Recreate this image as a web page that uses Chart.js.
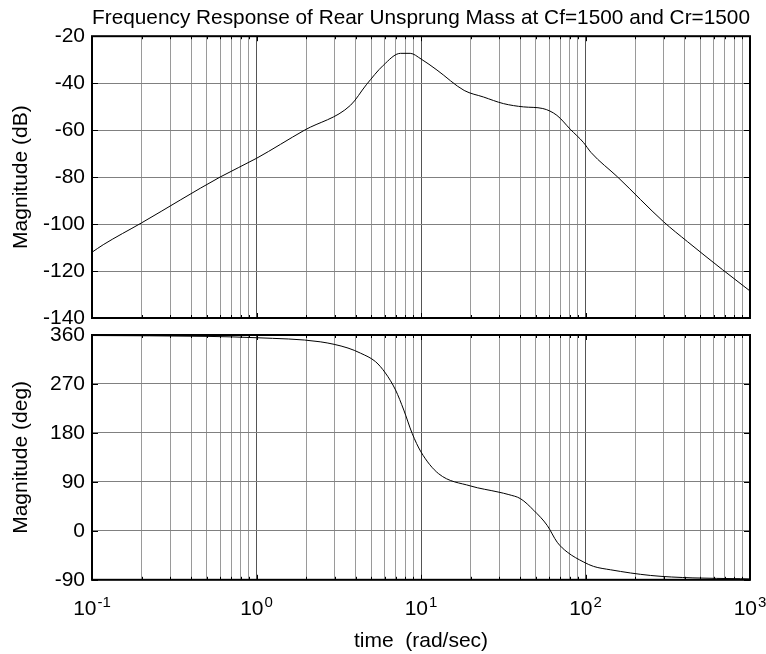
<!DOCTYPE html>
<html>
<head>
<meta charset="utf-8">
<title>Frequency Response of Rear Unsprung Mass</title>
<script src="https://cdn.jsdelivr.net/npm/chart.js@4.4.1/dist/chart.umd.min.js"></script>
<style>
  html, body { margin: 0; padding: 0; background: #fff; }
  #wrap { position: relative; width: 766px; height: 654px; }
  #magChart { position: absolute; left: 0; top: 0; }
  #phaseChart { position: absolute; left: 0; top: 313px; }
</style>
</head>
<body>
<div id="wrap">
  <canvas id="magChart" width="766" height="340"></canvas>
  <canvas id="phaseChart" width="766" height="341"></canvas>
</div>
<script>
// Bode plot of the rear unsprung mass

// Magnitude curve (rad/sec -> dB)
const magFreq = [0.1, 0.117, 0.2, 0.6, 1, 1.96, 3.73, 4.65, 5.9, 7.5, 8.6, 10, 12.5, 18.3, 24, 31.7, 42, 55, 67, 81, 97, 108, 157, 298, 417, 680, 1000];
const magDb = [-112, -108.8, -99.5, -80, -72, -60, -49.4, -40.7, -32.4, -27.3, -27.3, -29.7, -34.4, -43.1, -45.9, -48.7, -50.1, -50.8, -53.7, -59.7, -65.2, -69.5, -80, -99, -107.5, -119.4, -128.5];

// Phase curve (rad/sec -> deg)
const phaseFreq = [0.1, 0.5, 1, 2.44, 3.6, 4.29, 5.29, 6.08, 7.0, 7.86, 8.84, 10, 12.8, 20, 29.4, 34.2, 40.3, 48.5, 58.5, 67.3, 77.4, 97.7, 112, 142, 248, 450, 875, 1000];
const phaseDeg = [359, 357.5, 355, 347.5, 336, 326.6, 311, 290, 259, 222, 179, 145, 105, 82.5, 71.4, 66.6, 59, 37.6, 10, -21, -39, -57.5, -65.4, -71.6, -82, -86.5, -88, -88.5];

// Axis ticks
const decades = [0.1, 1, 10, 100, 1000];
const decadeExp = ['-1', '0', '1', '2', '3'];
const gridSteps = [1, 2, 3, 4, 5, 6, 7, 8, 9];
const magTicks = [-140, -120, -100, -80, -60, -40, -20];
const phaseTicks = [-90, 0, 90, 180, 270, 360];

const FONT = 'Liberation Sans, Arial, Helvetica, sans-serif';
const AXIS_LEFT = 92;

// gridlines at 1..9 x each decade
const xGridValues = [];
for (let i = 0; i < decades.length - 1; i++) {
    gridSteps.forEach(s => xGridValues.push(decades[i] * s));
}
xGridValues.push(decades[decades.length - 1]);

function isDecade(v) {
    return decades.some(d => Math.abs(v / d - 1) < 1e-6);
}

function toPoints(xs, ys) {
    return xs.map((x, i) => ({ x: x, y: ys[i] }));
}

// box round the plot area plus small inward tick marks
const framePlugin = {
    id: 'frame',
    afterDatasetsDraw(chart) {
        const { ctx, chartArea: a, scales } = chart;
        ctx.save();
        ctx.strokeStyle = '#000';
        ctx.lineWidth = 1;
        ctx.beginPath();
        scales.x.ticks.forEach(t => {
            const px = Math.round(scales.x.getPixelForValue(t.value)) + 0.5;
            const len = isDecade(t.value) ? 5 : 3;
            ctx.moveTo(px, a.top); ctx.lineTo(px, a.top + len);
            ctx.moveTo(px, a.bottom); ctx.lineTo(px, a.bottom - len);
        });
        scales.y.ticks.forEach(t => {
            const py = Math.round(scales.y.getPixelForValue(t.value)) + 0.5;
            ctx.moveTo(a.left, py); ctx.lineTo(a.left + 6, py);
            ctx.moveTo(a.right, py); ctx.lineTo(a.right - 6, py);
        });
        ctx.stroke();
        ctx.lineWidth = 2;
        ctx.strokeRect(a.left, a.top, a.right - a.left, a.bottom - a.top);
        ctx.restore();
    }
};

// 10^n labels under the lower plot
const decadeLabelPlugin = {
    id: 'decadeLabels',
    afterDraw(chart) {
        const { ctx, chartArea: a, scales } = chart;
        ctx.save();
        ctx.fillStyle = '#000';
        ctx.textBaseline = 'alphabetic';
        ctx.textAlign = 'left';
        decades.forEach((d, i) => {
            const px = scales.x.getPixelForValue(d);
            ctx.font = '21px ' + FONT;
            const wBase = ctx.measureText('10').width;
            ctx.font = '15px ' + FONT;
            const wExp = ctx.measureText(decadeExp[i]).width;
            const left = px - (wBase + wExp + 1) / 2;
            ctx.font = '21px ' + FONT;
            ctx.fillText('10', left, a.bottom + 35);
            ctx.font = '15px ' + FONT;
            ctx.fillText(decadeExp[i], left + wBase + 1, a.bottom + 27);
        });
        ctx.restore();
    }
};

function xScale(title) {
    return {
        type: 'logarithmic',
        min: decades[0],
        max: decades[decades.length - 1],
        afterBuildTicks: function(scale) {
            scale.ticks = xGridValues.map(v => ({ value: v, major: isDecade(v) }));
        },
        ticks: { display: false },
        border: { display: false },
        grid: {
            drawTicks: false,
            lineWidth: 1,
            color: ctx => (ctx.tick && isDecade(ctx.tick.value)) ? '#555555' : '#9a9a9a'
        },
        title: title ? {
            display: true,
            text: title,
            color: '#000',
            font: { family: FONT, size: 21 },
            padding: { top: 49, bottom: 0 }
        } : { display: false }
    };
}

function yScale(tickValues, label) {
    return {
        type: 'linear',
        min: tickValues[0],
        max: tickValues[tickValues.length - 1],
        afterBuildTicks: function(scale) {
            scale.ticks = tickValues.map(v => ({ value: v }));
        },
        afterFit: function(scale) {
            scale.width = AXIS_LEFT;
        },
        border: { display: false },
        grid: { drawTicks: false, color: '#808080', lineWidth: 1 },
        ticks: {
            color: '#000',
            padding: 7,
            font: { family: FONT, size: 21 },
            callback: v => String(v)
        },
        title: {
            display: true,
            text: label,
            color: '#000',
            font: { family: FONT, size: 21 },
            padding: { top: 9, bottom: 0 }
        }
    };
}

function lineDataset(xs, ys) {
    return {
        data: toPoints(xs, ys),
        borderColor: '#000',
        borderWidth: 1,
        pointRadius: 0,
        fill: false,
        cubicInterpolationMode: 'monotone'
    };
}

const commonOptions = {
    responsive: false,
    animation: false,
    events: []
};

// Upper plot: magnitude
new Chart(document.getElementById('magChart'), {
    type: 'line',
    data: { datasets: [lineDataset(magFreq, magDb)] },
    options: Object.assign({}, commonOptions, {
        layout: { padding: { left: 0, right: 16, top: 0, bottom: 22 } },
        scales: {
            x: xScale(null),
            y: yScale(magTicks, 'Magnitude (dB)')
        },
        plugins: {
            legend: { display: false },
            tooltip: { enabled: false },
            title: {
                display: true,
                text: 'Frequency Response of Rear Unsprung Mass at Cf=1500 and Cr=1500',
                color: '#000',
                fullSize: false,
                font: { family: FONT, size: 21, weight: 'normal' },
                padding: { top: 6, bottom: 5 }
            }
        }
    }),
    plugins: [framePlugin]
});

// Lower plot: phase
new Chart(document.getElementById('phaseChart'), {
    type: 'line',
    data: { datasets: [lineDataset(phaseFreq, phaseDeg)] },
    options: Object.assign({}, commonOptions, {
        layout: { padding: { left: 0, right: 16, top: 22, bottom: 0 } },
        scales: {
            x: xScale('time  (rad/sec)'),
            y: yScale(phaseTicks, 'Magnitude (deg)')
        },
        plugins: {
            legend: { display: false },
            tooltip: { enabled: false }
        }
    }),
    plugins: [framePlugin, decadeLabelPlugin]
});
</script>
</body>
</html>
